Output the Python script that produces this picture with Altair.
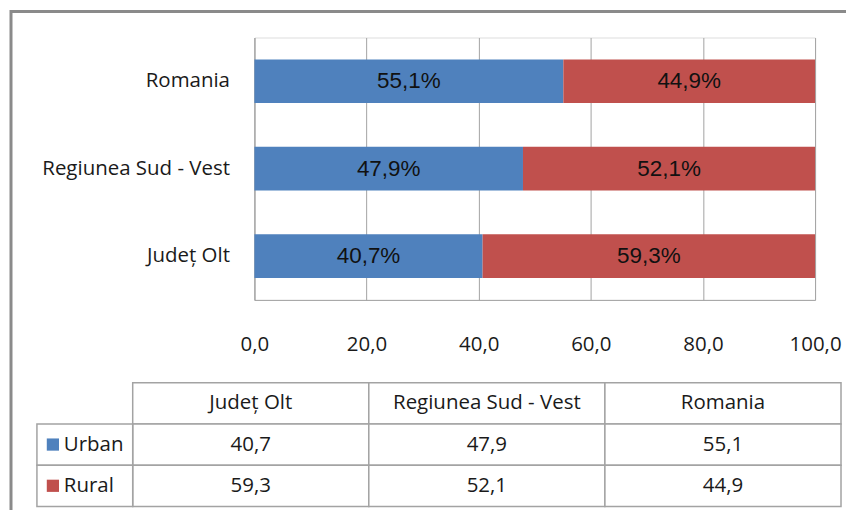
import altair as alt
import pandas as pd

# ---- data ----
categories = ["Județ Olt", "Regiunea Sud - Vest", "Romania"]
series = ["Urban", "Rural"]
urban = [40.7, 47.9, 55.1]
rural = [59.3, 52.1, 44.9]
x_ticks = [0, 20, 40, 60, 80, 100]
colors = ["#4F81BD", "#C0504D"]
header_row = "header"


def fmt(v):
    return f"{v:.1f}".replace(".", ",")


rows = []
for i, c in enumerate(categories):
    for j, (s, vals) in enumerate(zip(series, [urban, rural])):
        rows.append({"cat": c, "series": s, "order": j, "value": vals[i],
                     "label": fmt(vals[i]) + "%", "cell": fmt(vals[i])})
df = pd.DataFrame(rows)

hdr = pd.DataFrame({"col": categories, "row": [header_row] * 3, "text": categories})
vals_df = pd.DataFrame({"col": df["cat"], "row": df["series"], "text": df["cell"]})
cells_df = pd.concat([hdr, vals_df], ignore_index=True)
legend_df = pd.DataFrame({"row": series, "series": series})

FONT = "Open Sans"
FS = 20.5
BAR_FONT = "Liberation Sans"
GRID = "#a3a3a3"
TBL = "#a3a3a3"
TXT = "#1a1a1a"

bar_order = categories[::-1]
color_scale = alt.Scale(domain=series, range=colors)

# ---- bar chart ----
base = alt.Chart(df).transform_stack(
    stack="value", groupby=["cat"], as_=["v0", "v1"],
    sort=[alt.SortField(field="order", order="ascending")]
).transform_calculate(mid="(datum.v0 + datum.v1) / 2")

y_bar = alt.Y(
    "cat:N", sort=bar_order,
    scale=alt.Scale(paddingInner=0.5, paddingOuter=0.25),
    axis=alt.Axis(title=None, ticks=False, labelPadding=25, labelFont=FONT,
                  labelFontSize=FS, labelColor=TXT, domainColor=GRID,
                  labelLimit=400),
)

bars = base.mark_bar().encode(
    x=alt.X("v0:Q", scale=alt.Scale(domain=[0, 100], nice=False),
            axis=alt.Axis(values=x_ticks, title=None, ticks=False, labelPadding=35,
                          labelExpr="replace(format(datum.value, '.1f'), '.', ',')",
                          grid=True, gridColor=GRID, domainColor=GRID,
                          labelFont=FONT, labelFontSize=FS, labelColor=TXT,
                          labelFlush=False)),
    x2="v1:Q",
    y=y_bar,
    color=alt.Color("series:N", scale=color_scale, legend=None),
)

bar_text = base.mark_text(font=BAR_FONT, fontSize=22.5, color="#111111").encode(
    x="mid:Q", y=alt.Y("cat:N", sort=bar_order), text="label:N"
)

bar_group = alt.layer(bars, bar_text)

# ---- data table ----
tx = alt.X("col:N", sort=categories,
           scale=alt.Scale(domain=categories, range=[-122, 588], paddingInner=0, paddingOuter=0),
           axis=None)
ty = alt.Y("row:N", sort=[header_row] + series,
           scale=alt.Scale(domain=[header_row] + series, range=[346, 470],
                           paddingInner=0, paddingOuter=0),
           axis=None)

cells = alt.Chart(cells_df).mark_rect(fill="white", stroke=TBL, strokeWidth=1.5).encode(x=tx, y=ty)
cell_text = alt.Chart(cells_df).mark_text(font=FONT, fontSize=FS, color=TXT).encode(
    x=tx, y=ty, text="text:N")

leg_cells = alt.Chart(legend_df).mark_rect(fill="white", stroke=TBL, strokeWidth=1.5).encode(
    x=alt.value(-218), x2=alt.value(-122), y=ty)
leg_sq = alt.Chart(legend_df).mark_square(size=150, opacity=1).encode(
    x=alt.value(-202), y=ty,
    color=alt.Color("series:N", scale=color_scale, legend=None))
leg_text = alt.Chart(legend_df).mark_text(font=FONT, fontSize=FS, color=TXT, align="left").encode(
    x=alt.value(-191), y=ty, text="series:N")

frame = alt.Chart(pd.DataFrame({"a": [0]})).mark_rect(
    fill=None, stroke="#8a8a8a", strokeWidth=3).encode(
    x=alt.value(-244), x2=alt.value(800), y=alt.value(-26), y2=alt.value(700))

table_group = alt.layer(frame, cells, cell_text, leg_cells, leg_sq, leg_text)

chart = alt.layer(bar_group, table_group).resolve_scale(
    x="independent", y="independent"
).properties(
    width=562, height=263,
    autosize=alt.AutoSizeParams(type="none"),
    padding={"left": 247, "top": 29, "right": 31, "bottom": 210},
).configure_view(stroke=None).configure(background="white")

chart.save("out.html", embed_options={"renderer": "svg", "actions": False})
